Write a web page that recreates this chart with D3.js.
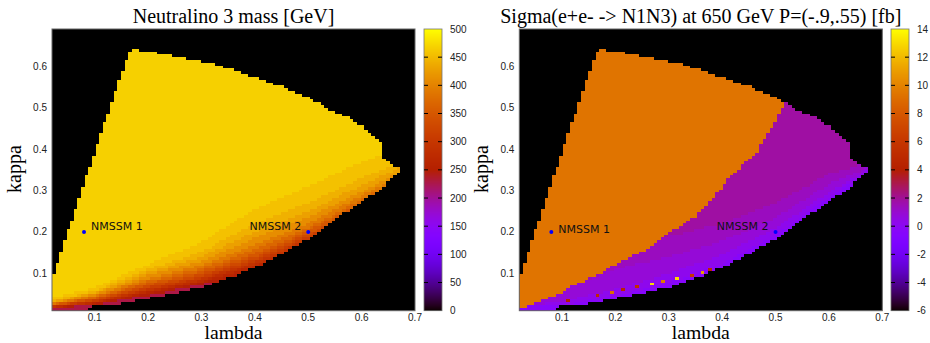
<!DOCTYPE html>
<html><head><meta charset="utf-8">
<script src="https://cdn.jsdelivr.net/npm/d3@7"></script>
<style>body{margin:0;background:#fff}svg{display:block}</style>
</head><body>
<svg id="chart" width="930" height="343"></svg>
<script>
// ---------------- DATA ----------------
const lambdaDomain = [0.02, 0.70];
const kappaDomain = [0.01, 0.69];
const gridCols = 100, gridRows = 100;
const xTicks = [0.1, 0.2, 0.3, 0.4, 0.5, 0.6, 0.7];
const yTicks = [0.1, 0.2, 0.3, 0.4, 0.5, 0.6];
const massTicks = [0, 50, 100, 150, 200, 250, 300, 350, 400, 450, 500];
const sigmaTicks = [-6, -4, -2, 0, 2, 4, 6, 8, 10, 12, 14];
const massRange = [0, 500];
const sigmaRange = [-6, 14];

// allowed (lambda, kappa) region outline
const regionLambda = [0.02, 0.0912, 0.0912, 0.1348, 0.166, 0.216, 0.266, 0.316, 0.366, 0.4035, 0.441, 0.472, 0.5065, 0.5408, 0.572, 0.6032, 0.6345, 0.6532, 0.6657, 0.6751,
  0.6657, 0.6532, 0.6407, 0.6395, 0.6251, 0.6032, 0.5783, 0.547, 0.5221, 0.4908, 0.4533, 0.4158, 0.3754, 0.3211, 0.2785, 0.2504, 0.2223, 0.1942, 0.1693,
  0.161, 0.1318, 0.1049, 0.0756, 0.0487, 0.02];
const regionKappa = [0.0095, 0.0095, 0.0197, 0.0237, 0.0317, 0.044, 0.056, 0.072, 0.096, 0.116, 0.140, 0.164, 0.188, 0.221, 0.249, 0.277, 0.301, 0.325, 0.337, 0.348,
  0.357, 0.369, 0.3775, 0.414, 0.430, 0.454, 0.474, 0.490, 0.510, 0.530, 0.550, 0.566, 0.584, 0.6066, 0.616, 0.624, 0.6307, 0.637, 0.6427,
  0.6225, 0.514, 0.410, 0.301, 0.197, 0.088];

// neutralino-3 mass: iso-mass lines (kappa at the given lambda samples)
const contourLambda = [0.02, 0.1, 0.2, 0.3, 0.4, 0.5, 0.6, 0.68];
const massC240 = [0.0165, 0.024, 0.047, 0.073, 0.100, 0.140, 0.220, 0.290];
const massC255 = [0.0172, 0.026, 0.051, 0.0765, 0.108, 0.150, 0.230, 0.295];
const massC270 = [0.0180, 0.028, 0.055, 0.080, 0.118, 0.160, 0.240, 0.300];
const massC285 = [0.0190, 0.030, 0.058, 0.084, 0.122, 0.172, 0.245, 0.305];
const massC300 = [0.0200, 0.032, 0.062, 0.088, 0.127, 0.183, 0.250, 0.310];
const massC320 = [0.0210, 0.0345, 0.066, 0.093, 0.133, 0.189, 0.256, 0.315];
const massC340 = [0.0220, 0.037, 0.071, 0.099, 0.140, 0.195, 0.262, 0.320];
const massC360 = [0.0235, 0.040, 0.076, 0.105, 0.148, 0.202, 0.270, 0.327];
const massC380 = [0.0250, 0.043, 0.082, 0.112, 0.158, 0.210, 0.278, 0.335];
const massC400 = [0.0270, 0.046, 0.088, 0.120, 0.170, 0.221, 0.287, 0.342];
const massC420 = [0.0290, 0.050, 0.095, 0.130, 0.185, 0.235, 0.298, 0.350];
const massC435 = [0.0310, 0.054, 0.102, 0.140, 0.200, 0.250, 0.313, 0.360];
const massC450 = [0.0340, 0.058, 0.110, 0.152, 0.220, 0.270, 0.330, 0.370];
const massC462 = [0.0400, 0.066, 0.122, 0.175, 0.255, 0.310, 0.370, 0.400];
const massBandValues = [228, 248, 262, 278, 292, 310, 330, 350, 370, 390, 410, 428, 443, 456, 467];

// cross section: boundary between the ~9.4 fb plateau and the low region
const splitLambda = [0.02, 0.045, 0.09, 0.12, 0.165, 0.22, 0.262, 0.30, 0.35, 0.38, 0.41, 0.445, 0.465, 0.48, 0.493, 0.505, 0.52, 0.54];
const splitKappa  = [0.016, 0.025, 0.047, 0.07, 0.096, 0.134, 0.16, 0.197, 0.237, 0.277, 0.326, 0.37, 0.393, 0.425, 0.453, 0.482, 0.512, 0.56];
const sigmaPlateau = 9.4;
const sigC00 = [0.020, 0.022, 0.045, 0.078, 0.122, 0.192, 0.283, 0.350];
const sigC05 = [0.020, 0.032, 0.062, 0.100, 0.145, 0.210, 0.295, 0.355];
const sigC10 = [0.020, 0.060, 0.110, 0.140, 0.178, 0.235, 0.315, 0.360];
const sigC15 = [0.020, 0.080, 0.140, 0.190, 0.220, 0.270, 0.340, 0.370];
const sigmaBandValues = [-0.4, 0.2, 0.8, 1.3, 1.8];
// isolated high cells along the lower edge
const hotLambda = [0.115, 0.165, 0.1927, 0.2133, 0.240, 0.268, 0.288, 0.318, 0.340, 0.365, 0.380];
const hotKappa  = [0.031, 0.0455, 0.052, 0.060, 0.0647, 0.072, 0.078, 0.086, 0.0937, 0.100, 0.106];
const hotValue  = [4.0, 5.0, 9.0, 4.5, 5.5, 13, 9.5, 13, 6, 11, 4.5];

// benchmark points
const benchLambda = [0.08, 0.5];
const benchKappa = [0.2, 0.2];
const benchNames = ["NMSSM 1", "NMSSM 2"];

// ---------------- DRAW ----------------
const svg = d3.select("#chart");
const plotTop = 29, plotW = 363, plotH = 281.7;

function cmap(t) { // gnuplot rgbformulae 7,5,15
  t = Math.max(0, Math.min(1, t));
  const r = Math.sqrt(t), g = t * t * t, b = Math.max(0, Math.sin(2 * Math.PI * t));
  return `rgb(${Math.round(r * 255)},${Math.round(g * 255)},${Math.round(b * 255)})`;
}

const region = regionLambda.map((l, i) => [l, regionKappa[i]]);
const mkLine = arr => d3.scaleLinear().domain(contourLambda).range(arr).clamp(true);
const massLines = [massC240, massC255, massC270, massC285, massC300, massC320, massC340, massC360,
  massC380, massC400, massC420, massC435, massC450, massC462].map(mkLine);
const sigLines = [sigC00, sigC05, sigC10, sigC15].map(mkLine);
const splitLine = d3.scaleLinear().domain(splitLambda).range(splitKappa).clamp(true);

function massValue(l, k) {
  let n = 0; massLines.forEach(s => { if (k >= s(l)) n++; });
  return massBandValues[n];
}
function sigmaValue(l, k) {
  if (k > splitLine(l)) return sigmaPlateau;
  let n = 0; sigLines.forEach(s => { if (k >= s(l)) n++; });
  return sigmaBandValues[n];
}

const lEdges = d3.range(gridCols + 1).map(i => lambdaDomain[0] + i * (lambdaDomain[1] - lambdaDomain[0]) / gridCols);
const kEdges = d3.range(gridRows + 1).map(j => kappaDomain[0] + j * (kappaDomain[1] - kappaDomain[0]) / gridRows);

function drawPanel(cfg) {
  const g = svg.append("g").attr("transform", `translate(${cfg.left},${plotTop})`);
  const x = d3.scaleLinear().domain(lambdaDomain).range([0, plotW]);
  const y = d3.scaleLinear().domain(kappaDomain).range([plotH, 0]);
  const color = v => cmap((v - cfg.cRange[0]) / (cfg.cRange[1] - cfg.cRange[0]));

  g.append("rect").attr("x", 0).attr("y", 0).attr("width", plotW).attr("height", plotH).attr("fill", "#000");

  const cells = [];
  for (let i = 0; i < gridCols; i++) {
    for (let j = 0; j < gridRows; j++) {
      const lc = (lEdges[i] + lEdges[i + 1]) / 2, kc = (kEdges[j] + kEdges[j + 1]) / 2;
      if (!d3.polygonContains(region, [lc, kc])) continue;
      cells.push({ i, j, v: cfg.valueAt(lc, kc) });
    }
  }
  if (cfg.hot) {
    hotLambda.forEach((l, n) => {
      const i = Math.floor((l - lambdaDomain[0]) / (lEdges[1] - lEdges[0]));
      const j = Math.floor((hotKappa[n] - kappaDomain[0]) / (kEdges[1] - kEdges[0]));
      cells.push({ i, j, v: hotValue[n] });
    });
  }
  g.append("g").attr("shape-rendering", "crispEdges")
    .selectAll("rect").data(cells).join("rect")
    .attr("x", d => x(lEdges[d.i]))
    .attr("y", d => y(kEdges[d.j + 1]))
    .attr("width", d => x(lEdges[d.i + 1]) - x(lEdges[d.i]))
    .attr("height", d => y(kEdges[d.j]) - y(kEdges[d.j + 1]))
    .attr("fill", d => color(d.v));

  g.append("rect").attr("x", 0).attr("y", 0).attr("width", plotW).attr("height", plotH)
    .attr("fill", "none").attr("stroke", "#666").attr("stroke-width", 1);

  // axes tick labels
  g.selectAll("text.xt").data(xTicks).join("text")
    .attr("x", d => x(d)).attr("y", 292.3).attr("text-anchor", "middle")
    .attr("font-family", "Liberation Sans, Arial, sans-serif").attr("font-size", 10).attr("fill", "#222")
    .text(d => d3.format(".1f")(d));
  g.selectAll("text.yt").data(yTicks).join("text")
    .attr("x", -5).attr("y", d => y(d)).attr("dy", "0.35em").attr("text-anchor", "end")
    .attr("font-family", "Liberation Sans, Arial, sans-serif").attr("font-size", 10).attr("fill", "#222")
    .text(d => d3.format(".1f")(d));

  // benchmark points
  g.selectAll("circle.b").data(benchLambda).join("circle")
    .attr("cx", d => x(d)).attr("cy", (d, i) => y(benchKappa[i])).attr("r", 2).attr("fill", "#0000ff");
  g.selectAll("text.b").data(benchLambda).join("text")
    .attr("x", (d, i) => i === 0 ? x(d) + 7 : x(d) - 7)
    .attr("y", (d, i) => y(benchKappa[i]) - 2 + (i === 0 ? cfg.b1dy : 0))
    .attr("text-anchor", (d, i) => i === 0 ? "start" : "end")
    .attr("font-family", "DejaVu Sans, sans-serif").attr("font-size", 11).attr("fill", "#111")
    .text((d, i) => benchNames[i]);

  // titles and axis labels
  svg.append("text").attr("x", cfg.left + plotW / 2).attr("y", 23).attr("text-anchor", "middle")
    .attr("font-family", "Liberation Serif, Times New Roman, serif").attr("font-size", 20).attr("fill", "#000")
    .text(cfg.title);
  svg.append("text").attr("x", cfg.left + plotW / 2).attr("y", 339).attr("text-anchor", "middle")
    .attr("font-family", "Liberation Serif, Times New Roman, serif").attr("font-size", 18)
    .attr("textLength", 58).attr("lengthAdjust", "spacingAndGlyphs").attr("fill", "#000")
    .text("lambda");
  svg.append("text").attr("transform", `translate(${cfg.left - 31},169) rotate(-90)`).attr("text-anchor", "middle")
    .attr("font-family", "Liberation Serif, Times New Roman, serif").attr("font-size", 20).attr("fill", "#000")
    .text("kappa");

  // colour bar
  const cb = svg.append("g").attr("transform", `translate(${cfg.cbX},${plotTop})`);
  const cbW = 18;
  const cy = d3.scaleLinear().domain(cfg.cRange).range([plotH, 0]);
  const strips = d3.range(0, Math.ceil(plotH));
  cb.append("g").attr("shape-rendering", "crispEdges").selectAll("rect").data(strips).join("rect")
    .attr("x", 0).attr("y", d => d).attr("width", cbW).attr("height", d => Math.min(1, plotH - d) + 0.2)
    .attr("fill", d => color(cy.invert(d + 0.5)));
  cb.append("rect").attr("width", cbW).attr("height", plotH).attr("fill", "none").attr("stroke", "#777").attr("stroke-width", 0.8);
  const inner = cfg.cTicks.filter(t => t !== cfg.cRange[0] && t !== cfg.cRange[1]);
  cb.selectAll("line.l").data(inner).join("line")
    .attr("x1", 0).attr("x2", 4).attr("y1", d => cy(d)).attr("y2", d => cy(d)).attr("stroke", "#000").attr("stroke-width", 1);
  cb.selectAll("line.r").data(inner).join("line")
    .attr("x1", cbW - 4).attr("x2", cbW).attr("y1", d => cy(d)).attr("y2", d => cy(d)).attr("stroke", "#000").attr("stroke-width", 1);
  cb.selectAll("text").data(cfg.cTicks).join("text")
    .attr("x", cbW + 8).attr("y", d => cy(d)).attr("dy", "0.35em")
    .attr("font-family", "Liberation Sans, Arial, sans-serif").attr("font-size", 10).attr("fill", "#222")
    .text(d => d);
}

drawPanel({ left: 52, title: "Neutralino 3 mass [GeV]", cbX: 424, cRange: massRange, cTicks: massTicks, valueAt: massValue, hot: false, b1dy: 0 });
drawPanel({ left: 519.3, title: "Sigma(e+e- -> N1N3) at 650 GeV P=(-.9,.55) [fb]", cbX: 891, cRange: sigmaRange, cTicks: sigmaTicks, valueAt: sigmaValue, hot: true, b1dy: 3 });
</script>
</body></html>
